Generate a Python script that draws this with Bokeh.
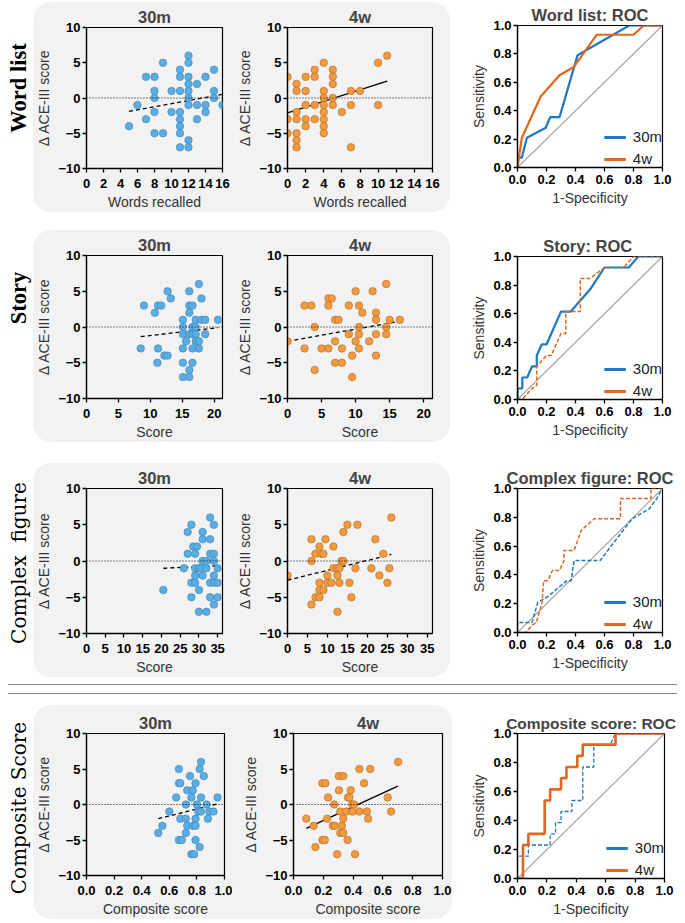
import math
from bokeh.plotting import figure
from bokeh.models import Range1d, FixedTicker, NumeralTickFormatter, Span, Legend, LegendItem, Div, Spacer
from bokeh.layouts import row, column
from bokeh.embed import file_html
from bokeh.resources import INLINE

# ---------------- data ----------------
row_labels = ["Word list", "Story", "Complex  figure", "Composite Score"]
roc_titles = ["Word list: ROC", "Story:  ROC", "Complex figure: ROC", "Composite score: ROC"]
x_labels = ["Words recalled", "Score", "Score", "Composite score"]
y_label = "\u0394 ACE-III score"
series_names = ["30m", "4w"]

wl_ticks = [0, 2, 4, 6, 8, 10, 12, 14, 16]
st_ticks = [0, 5, 10, 15, 20]
cf_ticks = [0, 5, 10, 15, 20, 25, 30, 35]
cs_ticks = [0, 0.2, 0.4, 0.6, 0.8, 1.0]
dy_ticks = [-10, -5, 0, 5, 10]
roc_ticks = [0, 0.2, 0.4, 0.6, 0.8, 1.0]

# Word list
wl30_x = [5, 6, 7, 7, 8, 8, 8, 8, 8, 9, 9, 10, 10, 11, 11, 11, 11, 11, 11, 11, 11,
          12, 12, 12, 12, 12, 12, 12, 12, 12, 13, 13, 13, 14, 14, 14, 15, 15, 15, 16]
wl30_y = [-4, -1, 3, -3, 3, 1, 0, -2, -5, 5, -5, 1, -2, 4, 3, 1, -2, -3, -4, -5, -7,
          6, 5, 3, 2, 1, 0, -1, -6, -7, 2, -1, -3, 3, -1, -2, 4, 1, 0, -1]
wl30_fit_x = [5, 16]
wl30_fit_y = [-1.9, 0.5]
wl4_x = [0, 0, 0, 1, 1, 1, 1, 1, 1, 1, 2, 2, 2, 2, 2, 3, 3, 3, 3, 4, 4, 4, 4, 4, 4, 4, 4,
         5, 5, 5, 5, 5, 6, 7, 7, 7, 8, 10, 10, 11]
wl4_y = [3, -3, -5, 2, 1, -2, -3, -5, -6, -7, 3, 1, -1, -3, -4, 4, 3, -1, -3, 5, 1, 0, -1, -2, -3, -4, -5,
         4, 3, 2, 0, -1, -2, 1, -1, -7, 1, 5, -1, 6]
wl4_fit_x = [0, 11]
wl4_fit_y = [-2.1, 2.4]

# Story
st30_x = [8.5, 9, 10.7, 11.2, 11.7, 11.1, 11.2, 12.7, 13.2, 12.2, 12.7, 15.1, 15.1, 15.1, 15.1, 15.1, 15.1,
          15.6, 16.1, 16.1, 16.1, 16.1, 16.1, 16.1, 16.6, 16.6, 16.6, 16.6, 16.6, 17.1, 17.1, 17.1, 17.1,
          17.6, 17.6, 17.6, 18, 18, 18.6, 18.6, 20.6]
st30_y = [-3, 3, 2, 3, 3, -5, -3, 5, 4, -4, -4, 1, 0, -1, -3, -5, -7,
          -2, 5, 3, 2, -1, -6, -7, 3, 0, -1, -3, -5, 0, 1, -1, -2,
          6, -2, -3, 4, 1, 1, -1, 1]
st30_fit_x = [8.5, 20.6]
st30_fit_y = [-1.35, -0.1]
st4_x = [0, 2.5, 2.5, 3.5, 4, 4, 5, 6, 6.5, 6, 6, 7, 7.5, 7, 7, 8, 8, 9, 9, 9.5, 9.5, 10, 10,
         10.5, 10.5, 10.5, 10.5, 11, 12, 12.5, 13, 13, 13, 13, 14.5, 14.5, 14.5, 15, 16.5]
st4_y = [-2, 3, -3, 3, 0, -6, -3, 4, 4, 3, -3, 1, 1, -2, -5, -3, -5, 3, -1, -4, -7, 5, -2,
         3, 0, -1, -3, 2, -2, 5, 2, 1, -1, -4, 6, 0, -1, 1, 1]
st4_fit_x = [0, 16.5]
st4_fit_y = [-2.0, 0.8]

# Complex figure
cf30_x = [20.5, 26, 27, 27, 28, 28, 28, 28.5, 29.5, 29, 29, 29, 29, 30, 30, 30, 30.5, 31, 31, 31, 31,
          32, 32, 32, 33, 33, 33, 33, 33, 34, 34, 34, 34, 34, 34, 35, 35, 35]
cf30_y = [-4, -1, 4, 1, 5, -3, -5, 2, 2, 1, -1, -2, -3, -1, -4, -7, -1, 4, 3, 0, -2,
          0, -1, -7, 6, 3, 1, -3, -5, 5, 1, 0, -2, -3, -6, -1, -3, -5]
cf30_fit_x = [20.5, 35.5]
cf30_fit_y = [-1.0, -0.65]
cf4_x = [0, 6, 6, 6, 7, 7, 8, 8, 8, 8, 8.5, 9, 9, 9.5, 10, 10, 11, 11.5, 11.5, 12.5, 12.5, 12.5,
         13, 13, 13.5, 14, 14, 15, 15.5, 16, 17, 17.5, 21, 22, 23, 24, 25, 25.5, 26]
cf4_y = [-2, 3, 0, -6, 1, -5, 2, -3, -4, -5, 1, 1, -4, 3, -2, -3, -3, 2, -1, -1, -2, -7,
         -1, -3, 0, 0, 4, 5, -3, -5, -1, 5, -1, 3, -2, 1, -3, -1, 6]
cf4_fit_x = [0, 26]
cf4_fit_y = [-2.65, 0.9]

# Composite score
cs30_x = [0.52, 0.55, 0.6, 0.65, 0.67, 0.67, 0.68, 0.68, 0.67, 0.69, 0.72, 0.72, 0.72, 0.73, 0.73,
          0.75, 0.76, 0.77, 0.77, 0.76, 0.78, 0.79, 0.79, 0.79, 0.79, 0.8, 0.81, 0.82, 0.82, 0.83,
          0.83, 0.83, 0.85, 0.87, 0.88, 0.89, 0.92, 0.95]
cs30_y = [-4, -3, -1, 1, 5, 3, 3, -2, -5, -5, 0, -2, -4, 2, -3,
          4, 1, 2, -3, -7, -7, 3, -2, -3, -5, 0, -1, 5, -6, 1,
          6, -1, 4, 0, -2, -1, -1, 1]
cs30_fit_x = [0.52, 0.96]
cs30_fit_y = [-2.0, 0.15]
cs4_x = [0.086, 0.135, 0.147, 0.194, 0.214, 0.194, 0.21, 0.232, 0.226, 0.273, 0.264, 0.278, 0.305,
         0.334, 0.305, 0.314, 0.314, 0.334, 0.325, 0.334, 0.293, 0.354, 0.366, 0.375, 0.363, 0.384,
         0.395, 0.406, 0.395, 0.413, 0.442, 0.442, 0.474, 0.492, 0.501, 0.515, 0.632, 0.655, 0.702]
cs4_y = [-2, -3, -6, 3, 3, -5, -5, 1, -2, 0, -3, -3, 4,
         4, 2, -1, -4, -4, -3, -2, -7, -1, 1, 1, -5, 2,
         0, 0, -1, -7, 5, -1, 3, -1, -2, 5, 1, -1, 6]
cs4_fit_x = [0.086, 0.70]
cs4_fit_y = [-3.35, 2.6]

# ROC curves
diag_x = [0, 1]
diag_y = [0, 1]
wl_roc30_x = [0, 0, 0.03, 0.065, 0.195, 0.225, 0.29, 0.414, 0.77, 1.0]
wl_roc30_y = [0, 0.07, 0.07, 0.21, 0.28, 0.355, 0.355, 0.79, 1.0, 1.0]
wl_roc4_x = [0, 0.03, 0.16, 0.29, 0.39, 0.547, 0.8, 0.87, 1.0]
wl_roc4_y = [0, 0.21, 0.5, 0.65, 0.71, 0.935, 0.935, 1.0, 1.0]
st_roc30_x = [0, 0, 0.033, 0.033, 0.067, 0.1, 0.133, 0.133, 0.167, 0.2, 0.3, 0.367, 0.5, 0.6, 0.767, 0.833, 1.0]
st_roc30_y = [0, 0.077, 0.077, 0.154, 0.154, 0.231, 0.231, 0.308, 0.385, 0.385, 0.615, 0.615, 0.769, 0.923, 0.923, 1.0, 1.0]
st_roc4_x = [0, 0.033, 0.1, 0.133, 0.133, 0.2, 0.233, 0.3, 0.333, 0.333, 0.433, 0.433, 0.5, 0.6, 0.733, 0.8, 1.0]
st_roc4_y = [0, 0, 0.077, 0.1, 0.231, 0.308, 0.308, 0.462, 0.462, 0.615, 0.615, 0.846, 0.846, 0.923, 0.923, 1.0, 1.0]
cf_roc30_x = [0, 0, 0.1, 0.12, 0.14, 0.21, 0.34, 0.37, 0.39, 0.57, 0.79, 0.91, 0.96, 1.0]
cf_roc30_y = [0, 0.07, 0.07, 0.14, 0.21, 0.25, 0.36, 0.36, 0.5, 0.5, 0.79, 0.86, 0.93, 1.0]
cf_roc4_x = [0, 0.057, 0.1, 0.13, 0.15, 0.17, 0.18, 0.21, 0.24, 0.29, 0.32, 0.32, 0.39, 0.44, 0.53,
             0.71, 0.71, 0.92, 0.92, 1.0]
cf_roc4_y = [0, 0, 0.05, 0.07, 0.14, 0.21, 0.36, 0.36, 0.43, 0.43, 0.5, 0.57, 0.57, 0.71, 0.79,
             0.79, 0.93, 0.93, 1.0, 1.0]
cs_roc30_x = [0, 0, 0.074, 0.074, 0.222, 0.222, 0.259, 0.259, 0.296, 0.296, 0.37, 0.37, 0.444, 0.444,
              0.519, 0.519, 0.63, 0.667, 1.0]
cs_roc30_y = [0, 0.154, 0.154, 0.231, 0.231, 0.308, 0.308, 0.385, 0.385, 0.462, 0.462, 0.538, 0.538, 0.769,
              0.769, 0.923, 0.923, 1.0, 1.0]
cs_roc4_x = [0, 0.037, 0.037, 0.074, 0.074, 0.185, 0.185, 0.222, 0.222, 0.296, 0.296, 0.333, 0.333,
             0.407, 0.407, 0.444, 0.444, 0.667, 0.667, 1.0]
cs_roc4_y = [0, 0, 0.231, 0.231, 0.308, 0.308, 0.538, 0.538, 0.615, 0.615, 0.692, 0.692, 0.769,
             0.769, 0.846, 0.846, 0.923, 0.923, 1.0, 1.0]

# ---------------- styling ----------------
SANS = "Liberation Sans"
PANEL = "#f2f2f2"
BLUE_PT, BLUE_EDGE = "#5aaee3", "#3d7fb0"
ORANGE_PT, ORANGE_EDGE = "#f29a3f", "#b06820"
BLUE_LN, ORANGE_LN = "#1f78c1", "#e2661c"


def style_axes(p, xticks, yticks, xlabel, ylabel, fmt=None, xstand=3):
    for ax in (p.xaxis[0], p.yaxis[0]):
        ax.axis_line_color = "black"
        ax.axis_line_width = 1.3
        ax.major_tick_line_color = "black"
        ax.major_tick_line_width = 1.3
        ax.major_tick_out = 4
        ax.major_tick_in = 0
        ax.minor_tick_line_color = None
        ax.major_label_text_font = SANS
        ax.major_label_text_font_style = "bold"
        ax.major_label_text_font_size = "13px"
        ax.major_label_text_color = "black"
        ax.axis_label_text_font = SANS
        ax.axis_label_text_font_style = "normal"
        ax.axis_label_text_font_size = "14px"
        ax.axis_label_text_color = "#333333"
        ax.axis_label_standoff = 3
    p.xaxis[0].major_label_standoff = xstand
    p.yaxis[0].major_label_standoff = 2
    p.xaxis[0].ticker = FixedTicker(ticks=xticks)
    p.yaxis[0].ticker = FixedTicker(ticks=yticks)
    p.xaxis[0].axis_label = xlabel
    p.yaxis[0].axis_label = ylabel
    if fmt:
        p.xaxis[0].formatter = NumeralTickFormatter(format=fmt)
    p.grid.visible = False
    p.outline_line_color = "black"
    p.outline_line_width = 1.2


def style_title(p, text, size="16.5px"):
    p.title.text = text
    p.title.align = "center"
    p.title.text_font = SANS
    p.title.text_font_size = size
    p.title.text_font_style = "bold"
    p.title.standoff = 3


def scatter_fig(xs, ys, fill, edge, fx, fy, dash, xmax, xticks, xlabel, title,
                left, fw, right, top, fh, bottom, fmt=None):
    p = figure(width=left + fw + right, height=top + fh + bottom,
               x_range=Range1d(0, xmax), y_range=Range1d(-10, 10),
               output_backend="svg", toolbar_location=None,
               min_border_left=left, min_border_right=right,
               min_border_top=top, min_border_bottom=bottom)
    p.background_fill_color = PANEL
    p.border_fill_color = None
    style_title(p, title)
    style_axes(p, xticks, dy_ticks, xlabel, y_label, fmt, xstand=6)
    p.add_layout(Span(location=0, dimension="width", line_color="black",
                      line_dash="1 2", line_width=1))
    p.line(fx, fy, line_color="black", line_width=1.3, line_dash=dash)
    p.scatter(xs, ys, size=7.5, fill_color=fill, line_color=edge, line_width=0.6)
    return p


def roc_fig(title, c30, c4, dash30, dash4, w30, w4, left, fw, right, top, fh, bottom, tsize="16.5px"):
    p = figure(width=left + fw + right, height=top + fh + bottom,
               x_range=Range1d(0, 1), y_range=Range1d(0, 1),
               output_backend="svg", toolbar_location=None,
               min_border_left=left, min_border_right=right,
               min_border_top=top, min_border_bottom=bottom)
    p.background_fill_color = "white"
    p.border_fill_color = "white"
    style_title(p, title, tsize)
    style_axes(p, roc_ticks, roc_ticks, "1-Specificity", "Sensitivity", "0.0", xstand=3)
    p.yaxis[0].formatter = NumeralTickFormatter(format="0.0")
    p.line(diag_x, diag_y, line_color="#a8a8a8", line_width=1.2)
    p.line(c30[0], c30[1], line_color=BLUE_LN, line_width=w30, line_dash=dash30)
    p.line(c4[0], c4[1], line_color=ORANGE_LN, line_width=w4, line_dash=dash4)
    # hidden solid copies, used only as legend swatches
    d1 = p.line(c30[0], c30[1], line_color=BLUE_LN, line_width=3.2, visible=False)
    d2 = p.line(c4[0], c4[1], line_color=ORANGE_LN, line_width=3.2, visible=False)
    leg = Legend(items=[LegendItem(label=series_names[0], renderers=[d1]),
                        LegendItem(label=series_names[1], renderers=[d2])],
                 location="bottom_right", border_line_color=None,
                 background_fill_alpha=0, inactive_fill_alpha=0,
                 label_text_font=SANS, label_text_color="#222222",
                 label_text_font_size="15px", glyph_width=22, glyph_height=16,
                 label_height=16, spacing=5, padding=2, margin=0, label_standoff=7)
    p.add_layout(leg)
    return p


def label_div(text, h, cy, size, weight, font):
    html = ('<div style="position:relative;width:33px;height:%dpx;">'
            '<div style="position:absolute;left:19px;top:%dpx;'
            'transform:translate(-50%%,-50%%) rotate(-90deg);white-space:pre;'
            "font-family:'%s',serif;font-weight:%s;font-size:%s;"
            'color:black;line-height:1;">%s</div></div>') % (h, cy, font, weight, size, text)
    return Div(text=html, width=33, height=h, margin=0)


def panel(p1, p2):
    return row(p1, p2, styles={"background-color": PANEL, "border-radius": "18px"})


# Row 1
H1 = 210
r1 = row(
    label_div(row_labels[0], H1, 86, "22.5px", "bold", "Liberation Serif"),
    panel(scatter_fig(wl30_x, wl30_y, BLUE_PT, BLUE_EDGE, wl30_fit_x, wl30_fit_y, "4 3", 16, wl_ticks,
                      x_labels[0], series_names[0], 44, 145, 10, 25, 146, 39),
          scatter_fig(wl4_x, wl4_y, ORANGE_PT, ORANGE_EDGE, wl4_fit_x, wl4_fit_y, "solid", 16, wl_ticks,
                      x_labels[0], series_names[1], 55, 145, 18, 24, 146, 40)),
    Spacer(width=10, height=H1),
    roc_fig(roc_titles[0], (wl_roc30_x, wl_roc30_y), (wl_roc4_x, wl_roc4_y), "solid", "solid", 2.2, 2.2,
            57, 145, 15, 21, 144, 45),
)

# Row 2
H2 = 212
r2 = row(
    label_div(row_labels[1], H2, 68, "22.5px", "bold", "Liberation Serif"),
    panel(scatter_fig(st30_x, st30_y, BLUE_PT, BLUE_EDGE, st30_fit_x, st30_fit_y, "4 3", 21.3, st_ticks,
                      x_labels[1], series_names[0], 44, 145, 10, 25, 145, 42),
          scatter_fig(st4_x, st4_y, ORANGE_PT, ORANGE_EDGE, st4_fit_x, st4_fit_y, "4 3", 21.3, st_ticks,
                      x_labels[1], series_names[1], 55, 145, 18, 25, 145, 42)),
    Spacer(width=10, height=H2),
    roc_fig(roc_titles[1], (st_roc30_x, st_roc30_y), (st_roc4_x, st_roc4_y), "solid", "4 2", 2.2, 1.5,
            57, 145, 15, 26, 143, 43),
)

# Row 3
H3 = 214
r3 = row(
    label_div(row_labels[2], H3, 100, "20px", "normal", "DejaVu Serif"),
    panel(scatter_fig(cf30_x, cf30_y, BLUE_PT, BLUE_EDGE, cf30_fit_x, cf30_fit_y, "4 3", 36.3, cf_ticks,
                      x_labels[2], series_names[0], 44, 145, 10, 25, 145, 44),
          scatter_fig(cf4_x, cf4_y, ORANGE_PT, ORANGE_EDGE, cf4_fit_x, cf4_fit_y, "4 3", 36.3, cf_ticks,
                      x_labels[2], series_names[1], 55, 145, 18, 25, 145, 44)),
    Spacer(width=10, height=H3),
    roc_fig(roc_titles[2], (cf_roc30_x, cf_roc30_y), (cf_roc4_x, cf_roc4_y), "4 2", "4 2", 1.5, 1.5,
            57, 145, 15, 25, 144, 45),
)

# separator (double rule)
sep = Div(text='<div style="margin-left:8px;width:669px;height:10px;margin-top:7px;'
               'border-top:1px solid #8a8a8a;border-bottom:1px solid #8a8a8a;box-sizing:border-box"></div>',
          width=685, height=28, margin=0)

# Row 4
H4 = 214
r4 = row(
    label_div(row_labels[3], H4, 103, "20px", "normal", "DejaVu Serif"),
    panel(scatter_fig(cs30_x, cs30_y, BLUE_PT, BLUE_EDGE, cs30_fit_x, cs30_fit_y, "4 3", 1.0, cs_ticks,
                      x_labels[3], series_names[0], 44, 147, 8, 28, 148, 38, "0.0"),
          scatter_fig(cs4_x, cs4_y, ORANGE_PT, ORANGE_EDGE, cs4_fit_x, cs4_fit_y, "solid", 1.0, cs_ticks,
                      x_labels[3], series_names[1], 61, 149, 10, 28, 148, 38, "0.0")),
    Spacer(width=7, height=H4),
    roc_fig(roc_titles[3], (cs_roc30_x, cs_roc30_y), (cs_roc4_x, cs_roc4_y), "4 2", "solid", 1.3, 2.6,
            58, 147, 21, 28, 147, 39, "15.5px"),
)

layout = column(Spacer(height=2, width=685), r1, Spacer(height=18, width=685), r2,
                Spacer(height=21, width=685), r3, sep, r4)

open("out.html", "w").write(file_html(layout, INLINE))
